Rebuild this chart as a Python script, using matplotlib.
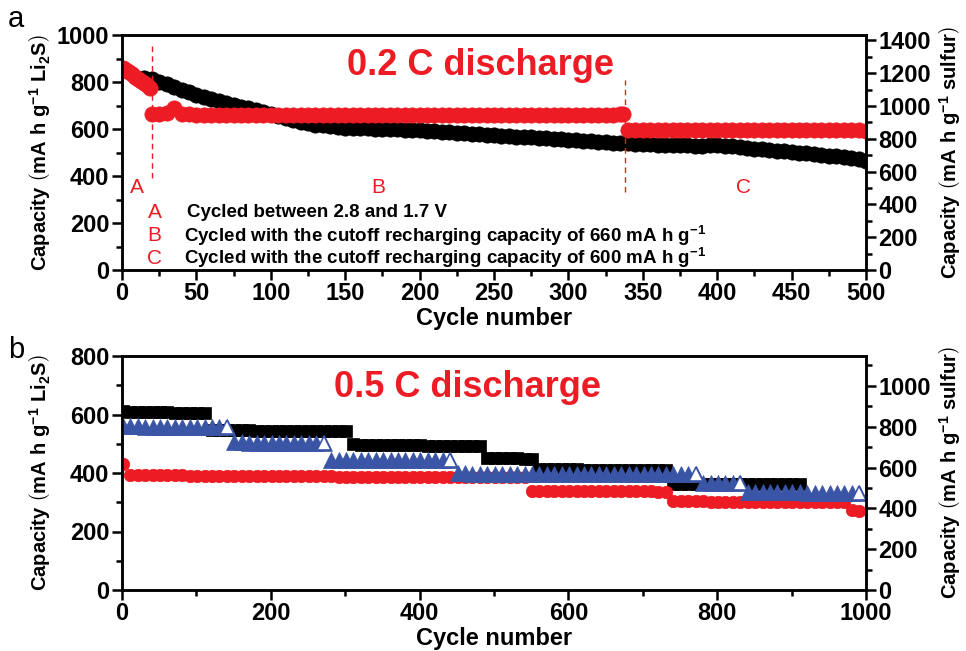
import numpy as np
import matplotlib
matplotlib.use('Agg')
import matplotlib.pyplot as plt
from matplotlib.ticker import MultipleLocator

plt.rcParams['font.family'] = ['Liberation Sans', 'DejaVu Sans']
plt.rcParams['font.weight'] = 'bold'
plt.rcParams['axes.labelweight'] = 'bold'
plt.rcParams['mathtext.fontset'] = 'custom'
plt.rcParams['mathtext.rm'] = 'Liberation Sans:bold'
plt.rcParams['mathtext.it'] = 'Liberation Sans:bold:italic'
plt.rcParams['mathtext.bf'] = 'Liberation Sans:bold'

# ---------------- data: panel a (0.2 C) ----------------
top_black_cycles = list(range(15, 501, 5))
top_black_vals = [815, 812, 800, 790, 778, 768, 757, 746,
                  736, 727, 718, 710, 702, 695, 688, 680, 672, 664,
                  656, 648, 640, 631, 624, 619, 615, 612, 609, 606,
                  605, 604, 603, 602, 601, 600, 599, 597, 596, 594,
                  592, 590, 588, 586, 584, 582, 580, 578, 576, 574,
                  572, 570, 568, 566, 564, 562, 560, 558, 556, 554,
                  552, 550, 548, 546, 544, 542, 540, 539, 537, 536,
                  535, 534, 533, 532, 531, 530, 529, 529, 530, 530,
                  529, 526, 523, 520, 517, 514, 511, 508, 505, 502,
                  499, 496, 493, 490, 487, 484, 481, 478, 474, 462]

top_redA_cycles = [1, 3, 5, 7, 9, 11, 13, 15, 17, 19]
top_redA_vals = [858, 852, 842, 832, 822, 812, 803, 795, 786, 776]

top_redB_cycles = list(range(20, 336, 5)) + [337]
top_redB_vals = [662, 663, 666, 688, 664, 662, 661, 661, 660, 661,
                 660, 661, 660, 660, 661, 660, 660, 661, 660, 660,
                 661, 660, 660, 661, 660, 660, 661, 660, 660, 661,
                 660, 661, 660, 660, 661, 660, 660, 661, 660, 660,
                 661, 660, 660, 661, 660, 660, 661, 660, 660, 661,
                 660, 661, 660, 660, 661, 660, 660, 661, 660, 660,
                 661, 660, 661, 662, 665]

top_redC_cycles = list(range(340, 501, 5))
top_redC_vals = [596, 595, 595, 594, 595, 594, 595, 594, 594, 595,
                 594, 595, 594, 594, 595, 594, 594, 595, 594, 594,
                 595, 594, 594, 595, 594, 594, 595, 594, 594, 595,
                 594, 594, 593]

# ---------------- data: panel b (0.5 C) ----------------
bot_cycles = list(range(1, 1001, 10))
bot_black_vals = [612, 610, 608, 608, 607, 607, 607, 606, 606, 606, 606, 605,
                  548, 547, 547, 546, 546, 546, 545, 545, 545, 545, 544, 544, 544, 544, 543, 543, 543, 543, 543,
                  498, 497, 497, 496, 496, 496, 495, 495, 495, 495, 494, 494, 494, 494, 493, 493, 493, 492,
                  452, 451, 451, 450, 450, 449, 449,
                  413, 413, 412, 412, 412, 412, 411, 411, 411, 411, 410, 410, 410, 410, 410, 409, 409, 409,
                  364, 364, 363, 363, 363, 363, 362, 362, 362, 362, 362, 362, 361, 361, 361, 361, 361, 361]
bot_blue_vals = [560, 559, 559, 558, 558, 558, 557, 557, 557, 557, 557, 556, 556, 556, 556,
                 505, 505, 504, 504, 504, 504, 503, 503, 503, 503, 503, 502, 502,
                 446, 446, 445, 445, 445, 445, 444, 444, 444, 444, 444, 443, 443, 443, 443, 443, 443,
                 399, 399, 398, 398, 398, 398, 398, 398, 397, 397, 397, 397, 397, 397, 397, 397,
                 397, 397, 397, 396, 396, 396, 396, 396, 396, 396, 396, 396, 396, 396, 396, 396, 396,
                 367, 366, 366, 366, 365, 365,
                 335, 335, 334, 334, 334, 334, 334, 334, 333, 333, 333, 333, 333, 333, 333, 333]
bot_red_vals = [430,
                393, 393, 393, 392, 392, 392, 392, 392, 391, 391, 391, 391, 391, 391, 390, 390, 390, 390,
                390, 390, 390, 389, 389, 389, 389, 389, 389, 389, 388, 388, 388, 388, 388, 388, 388, 388,
                387, 387, 387, 387, 387, 387, 387, 387, 386, 386, 386, 386, 386, 386, 386, 386, 386, 386,
                340, 339, 339, 339, 338, 338, 338, 338, 338, 338, 337, 337, 337, 337, 337, 337, 337, 336, 336,
                304, 303, 303, 303, 303, 302, 302, 302, 302, 302, 302, 301, 301, 301, 301, 301, 301, 301, 300,
                300, 300, 300, 300, 300,
                272, 270]
# number of points in each blue rate step
blue_seg_sizes = [15, 13, 17, 33, 6, 16]

LI2S_TO_S = 1.433   # Li2S capacity -> sulfur capacity

RED = '#ed1c24'
BLUE = '#3b55a6'

fig = plt.figure(figsize=(9.66, 6.51), dpi=100)
axA = fig.add_axes([122/966, 1-270/651, 744/966, 235/651])
axB = fig.add_axes([122/966, 1-590/651, 744/966, 234/651])


def style(ax, right=False):
    for s in ax.spines.values():
        s.set_linewidth(1.8)
    ax.tick_params(which='both', direction='out', width=1.8, labelsize=17, pad=2)
    ax.tick_params(which='major', length=7)
    ax.tick_params(which='minor', length=4)
    ax.tick_params(top=False, which='both')
    if not right:
        ax.tick_params(right=False, which='both')


LBL_L = r'Capacity $\left(\mathrm{mA\ h\ g^{-1}\ Li_2S}\right)$'
LBL_R = r'Capacity $\left(\mathrm{mA\ h\ g^{-1}\ sulfur}\right)$'

# ---- panel a ----
axA.plot(top_black_cycles, top_black_vals, 'o', color='black', ms=11, mec='black', mew=0.5, zorder=2)
axA.plot(top_redA_cycles, top_redA_vals, 'o', color=RED, ms=11, mec=RED, mew=0.5, zorder=3)
axA.plot(top_redB_cycles, top_redB_vals, 'o', color=RED, ms=11, mec=RED, mew=0.5, zorder=3)
axA.plot(top_redC_cycles, top_redC_vals, 'o', color=RED, ms=11, mec=RED, mew=0.5, zorder=3)
axA.set_xlim(0, 500)
axA.set_ylim(0, 1000)
axA.xaxis.set_major_locator(MultipleLocator(50))
axA.xaxis.set_minor_locator(MultipleLocator(25))
axA.yaxis.set_major_locator(MultipleLocator(200))
axA.yaxis.set_minor_locator(MultipleLocator(100))
style(axA)
axA.set_xlabel('Cycle number', fontsize=17, labelpad=1)
axA.set_ylabel(LBL_L, fontsize=14.5)
axA.yaxis.set_label_coords(-0.093, 0.5)

axA2 = axA.twinx()
axA2.set_ylim(0, 1000 * LI2S_TO_S)
axA2.yaxis.set_major_locator(MultipleLocator(200))
axA2.yaxis.set_minor_locator(MultipleLocator(100))
style(axA2, right=True)
axA2.set_ylabel(LBL_R, fontsize=14.5)
axA2.yaxis.set_label_coords(1.095, 0.5)

axA.axvline(20, ymin=0.39, ymax=0.965, color=RED, ls=(0, (4, 3)), lw=1)
axA.axvline(338, ymin=0.33, ymax=0.81, color=RED, ls=(0, (4, 3)), lw=1)
axA.text(241, 872, '0.2 C discharge', color=RED, fontsize=26, ha='center', va='center')
for lab, cx in zip(['A', 'B', 'C'], [10, 172, 418]):
    axA.text(cx, 350, lab, color=RED, fontsize=15, fontweight='normal', ha='center', va='center')
legend_lines = ['Cycled between 2.8 and 1.7 V',
                r'Cycled with the cutoff recharging capacity of 660 mA h g$^{-1}$',
                r'Cycled with the cutoff recharging capacity of 600 mA h g$^{-1}$']
for lab, txt, yy, tx in zip(['A', 'B', 'C'], legend_lines, [243, 147, 51], [44, 42, 42]):
    axA.text(22, yy, lab, color=RED, fontsize=15, fontweight='normal', ha='center', va='center')
    axA.text(tx, yy, txt, color='black', fontsize=13.5, ha='left', va='center')

# ---- panel b ----
i0 = 0
bl_c = bot_cycles[:len(bot_black_vals)]
axB.plot(bl_c, bot_black_vals, 's', color='black', ms=9, mew=0.5, mec='black', zorder=2)
axB.plot(bot_cycles, bot_red_vals, 'o', color=RED, ms=9, mec=RED, mew=0.5, zorder=3)
for n in blue_seg_sizes:
    cs = bot_cycles[i0:i0+n]
    vs = bot_blue_vals[i0:i0+n]
    axB.plot(cs, vs, '^', color=BLUE, ms=11, mec=BLUE, mew=0.5, zorder=4)
    axB.plot(cs[-1:], vs[-1:], '^', mfc='white', mec=BLUE, ms=10, mew=1.2, zorder=5)
    i0 += n
axB.set_xlim(0, 1000)
axB.set_ylim(0, 800)
axB.xaxis.set_major_locator(MultipleLocator(200))
axB.xaxis.set_minor_locator(MultipleLocator(100))
axB.yaxis.set_major_locator(MultipleLocator(200))
axB.yaxis.set_minor_locator(MultipleLocator(100))
style(axB)
axB.set_xlabel('Cycle number', fontsize=17, labelpad=1)
axB.set_ylabel(LBL_L, fontsize=14.5)
axB.yaxis.set_label_coords(-0.093, 0.5)
axB.text(464, 693, '0.5 C discharge', color=RED, fontsize=26, ha='center', va='center')

axB2 = axB.twinx()
axB2.set_ylim(0, 800 * LI2S_TO_S)
axB2.yaxis.set_major_locator(MultipleLocator(200))
axB2.yaxis.set_minor_locator(MultipleLocator(100))
style(axB2, right=True)
axB2.set_ylabel(LBL_R, fontsize=14.5)
axB2.yaxis.set_label_coords(1.095, 0.5)

fig.text(8/966, 1-19/651, 'a', fontsize=21, fontweight='normal', ha='left', va='center')
fig.text(8/966, 1-350/651, 'b', fontsize=21, fontweight='normal', ha='left', va='center')

fig.savefig('out.png', dpi=100)
